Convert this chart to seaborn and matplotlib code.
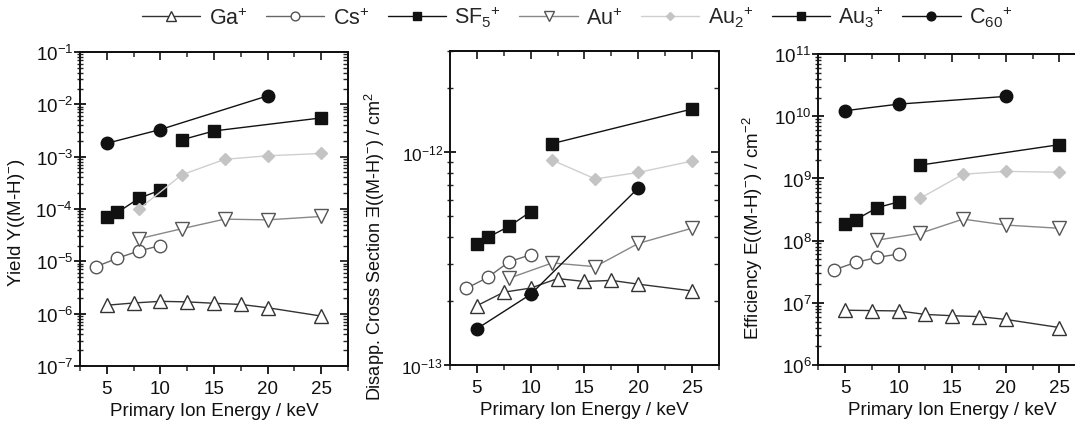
import numpy as np
import pandas as pd
import matplotlib
matplotlib.use("Agg")
import matplotlib.pyplot as plt
import seaborn as sns
from matplotlib.ticker import LogLocator, NullFormatter, MultipleLocator
from matplotlib.lines import Line2D

sns.set_theme(style="ticks")
plt.rcParams["font.family"] = ["Liberation Sans", "DejaVu Sans"]
plt.rcParams["mathtext.fontset"] = "custom"
plt.rcParams["mathtext.rm"] = "Liberation Sans"
plt.rcParams["mathtext.it"] = "Liberation Sans:italic"

# ---- data: primary ion energies (keV) per projectile ----
e_ga = [5, 7.5, 10, 12.5, 15, 17.5, 20, 25]
e_cs = [4, 6, 8, 10]
e_sf5 = [5, 6, 8, 10]
e_au = [8, 12, 16, 20, 25]
e_au2 = [8, 12, 16, 20, 25]
e_au3 = [12, 15, 25]
e_c60 = [5, 10, 20]

# yield Y((M-H)-)
y_ga = [1.45e-6, 1.6e-6, 1.72e-6, 1.68e-6, 1.58e-6, 1.5e-6, 1.3e-6, 9.0e-7]
y_cs = [7.9e-6, 1.15e-5, 1.58e-5, 2.0e-5]
y_sf5 = [6.9e-5, 8.6e-5, 1.6e-4, 2.3e-4]
y_au = [2.7e-5, 4.2e-5, 6.4e-5, 6.2e-5, 7.2e-5]
y_au2 = [1.0e-4, 4.5e-4, 8.9e-4, 1.04e-3, 1.15e-3]
y_au3 = [2.1e-3, 3.1e-3, 5.5e-3]
y_c60 = [1.8e-3, 3.3e-3, 1.45e-2]

# disappearance cross section (cm^2)
s_ga = [1.9e-13, 2.2e-13, 2.3e-13, 2.55e-13, 2.47e-13, 2.5e-13, 2.4e-13, 2.23e-13]
s_cs = [2.29e-13, 2.58e-13, 3.06e-13, 3.3e-13]
s_sf5 = [3.7e-13, 3.98e-13, 4.49e-13, 5.26e-13]
s_au = [2.56e-13, 3.02e-13, 2.9e-13, 3.73e-13, 4.4e-13]
s_au2 = [None, 9.2e-13, 7.5e-13, 8.05e-13, 9.1e-13]
s_au3 = [1.10e-12, None, 1.6e-12]
s_c60 = [1.48e-13, 2.15e-13, 6.8e-13]

# efficiency (cm^-2)
f_ga = [7.6e6, 7.5e6, 7.4e6, 6.5e6, 6.2e6, 6.0e6, 5.4e6, 4.0e6]
f_cs = [3.4e7, 4.47e7, 5.37e7, 6.1e7]
f_sf5 = [1.85e8, 2.17e8, 3.4e8, 4.2e8]
f_au = [1.02e8, 1.31e8, 2.22e8, 1.78e8, 1.58e8]
f_au2 = [None, 4.8e8, 1.17e9, 1.3e9, 1.26e9]
f_au3 = [1.64e9, None, 3.5e9]
f_c60 = [1.23e10, 1.57e10, 2.09e10]

ion_labels = [r"Ga$^{+}$", r"Cs$^{+}$", r"SF$_{5}$$^{+}$", r"Au$^{+}$",
              r"Au$_{2}$$^{+}$", r"Au$_{3}$$^{+}$", r"C$_{60}$$^{+}$"]
energies = [e_ga, e_cs, e_sf5, e_au, e_au2, e_au3, e_c60]

# drawing style for each projectile
styles = [
    dict(marker="^", line="#333333", mec="#333333", mfc="white", ms=9.5),
    dict(marker="o", line="#666666", mec="#555555", mfc="white", ms=9),
    dict(marker="s", line="#111111", mec="#111111", mfc="#111111", ms=8),
    dict(marker="v", line="#888888", mec="#555555", mfc="white", ms=9.5),
    dict(marker="D", line="#cfcfcf", mec="#c4c4c4", mfc="#c4c4c4", ms=6.5),
    dict(marker="s", line="#111111", mec="#111111", mfc="#111111", ms=8),
    dict(marker="o", line="#111111", mec="#111111", mfc="#111111", ms=9),
]

panels = [
    dict(vals=[y_ga, y_cs, y_sf5, y_au, y_au2, y_au3, y_c60],
         ylim=(1e-7, 1e-1), ylabel=r"Yield Y((M-H)$^{-}$)",
         rect=[0.0744, 0.1405, 0.2493, 0.7354], lab=(-0.198, 0.46), fs=13.5),
    dict(vals=[s_ga, s_cs, s_sf5, s_au, s_au2, s_au3, s_c60],
         ylim=(1e-13, 3e-12), ylabel="Disapp. Cross Section \u018E((M-H)$^{-}$) / cm$^{2}$",
         rect=[0.4186, 0.1429, 0.2502, 0.7354], lab=(-0.235, 0.38), fs=13.0),
    dict(vals=[f_ga, f_cs, f_sf5, f_au, f_au2, f_au3, f_c60],
         ylim=(1e6, 1e11), ylabel=r"Efficiency E((M-H)$^{-}$) / cm$^{-2}$",
         rect=[0.7612, 0.1429, 0.2493, 0.728], lab=(-0.2, 0.445), fs=13.5),
]

fig = plt.figure(figsize=(10.75, 4.27), dpi=100)

for p in panels:
    ax = fig.add_axes(p["rect"])
    for lab, xs, ys, st in zip(ion_labels, energies, p["vals"], styles):
        df = pd.DataFrame({"E": xs, "v": ys}).dropna()
        sns.lineplot(data=df, x="E", y="v", ax=ax, color=st["line"], lw=1.0,
                     marker=st["marker"], markersize=st["ms"],
                     markeredgecolor=st["mec"], markerfacecolor=st["mfc"],
                     markeredgewidth=1.0, label=lab, legend=False, zorder=3)
    ax.set_yscale("log")
    ax.set_xlim(2.5, 27.5)
    ax.set_ylim(*p["ylim"])
    ax.xaxis.set_major_locator(MultipleLocator(5))
    ax.xaxis.set_minor_locator(MultipleLocator(2.5))
    ax.yaxis.set_major_locator(LogLocator(base=10, numticks=20))
    ax.yaxis.set_minor_locator(LogLocator(base=10, subs=np.arange(2, 10), numticks=20))
    ax.yaxis.set_minor_formatter(NullFormatter())
    for sp in ax.spines.values():
        sp.set_linewidth(1.4)
        sp.set_color("#111111")
        sp.set_visible(True)
    ax.tick_params(axis="x", which="major", direction="out", length=6, width=1.3,
                   labelsize=13.5, colors="#111111", pad=4)
    ax.tick_params(axis="x", which="minor", direction="out", length=3.5, width=1.1)
    ax.tick_params(axis="y", which="major", direction="inout", length=8, width=1.3,
                   labelsize=13.5 if p is not panels[1] else 12.5, colors="#111111", pad=1)
    ax.tick_params(axis="y", which="minor", direction="inout", length=4.5, width=1.0)
    # mirrored ticks on top and right, pointing inward
    top = ax.secondary_xaxis("top")
    top.xaxis.set_major_locator(MultipleLocator(5))
    top.xaxis.set_minor_locator(MultipleLocator(2.5))
    top.tick_params(which="major", direction="in", length=6, width=1.3, labeltop=False)
    top.tick_params(which="minor", direction="in", length=3.5, width=1.1)
    top.spines["top"].set_linewidth(1.4)
    right = ax.secondary_yaxis("right")
    right.yaxis.set_major_locator(LogLocator(base=10, numticks=20))
    right.yaxis.set_minor_locator(LogLocator(base=10, subs=np.arange(2, 10), numticks=20))
    right.tick_params(which="major", direction="in", length=6, width=1.3, labelright=False)
    right.tick_params(which="minor", direction="in", length=3.5, width=1.0, labelright=False)
    right.spines["right"].set_linewidth(1.4)
    ax.set_xlabel("Primary Ion Energy / keV", fontsize=13.5, color="#111111", labelpad=3.5)
    ax.set_ylabel(p["ylabel"], fontsize=p["fs"], color="#111111")
    ax.yaxis.set_label_coords(*p["lab"])
    ax.grid(False)
    if p is panels[0]:
        handles = [Line2D([], [], color=st["line"], lw=1.0, marker=st["marker"],
                          markersize=st["ms"] * 0.7, markeredgecolor=st["mec"],
                          markerfacecolor=st["mfc"]) for st in styles]

fig.legend(handles, ion_labels, loc="center", bbox_to_anchor=(0.537, 0.958),
           ncol=7, frameon=False, fontsize=15.5, handlelength=2.7,
           columnspacing=0.85, handletextpad=0.4)

fig.savefig("out.png", dpi=100)
